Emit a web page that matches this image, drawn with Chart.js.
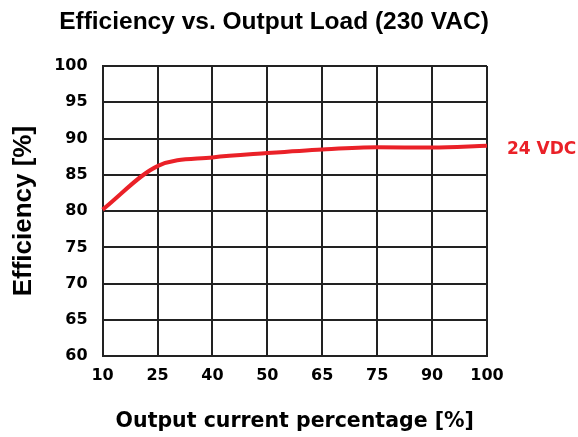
<!DOCTYPE html>
<html>
<head>
<meta charset="utf-8">
<script src="https://cdn.jsdelivr.net/npm/chart.js@4/dist/chart.umd.min.js"></script>
<style>
  html, body { margin: 0; padding: 0; background: #fff; }
  #wrap { width: 578px; height: 437px; }
</style>
</head>
<body>
<div id="wrap"><canvas id="chart" width="578" height="437"></canvas></div>
<script>
// Efficiency curve, 24 VDC output at 230 VAC input
const loadLabels = ['10', '25', '40', '50', '65', '75', '90', '100'];
const efficiency24V = [80.2, 86.2, 87.4, 88.0, 88.5, 88.8, 88.75, 89.0];
const seriesName = '24 VDC';
const chartTitle = 'Efficiency vs. Output Load (230 VAC)';

const arial = '"Liberation Sans", Arial, sans-serif';
const wide = '"DejaVu Sans", Verdana, sans-serif';
const lineRed = '#ea2128';
const gridDark = '#222222';

// title sits centred over the plot+label block, not the canvas, so draw it by hand
// and put the series name right of the last point
const annotate = {
    id: 'annotate',
    afterDatasetsDraw(chart) {
        const meta = chart.getDatasetMeta(0);
        const last = meta.data[meta.data.length - 1];
        const { ctx } = chart;
        ctx.save();
        ctx.fillStyle = lineRed;
        ctx.font = `bold 17px ${wide}`;
        ctx.textBaseline = 'middle';
        ctx.fillText(seriesName, last.x + 20, last.y + 4);

        ctx.fillStyle = '#000';
        ctx.font = `bold 24.5px ${arial}`;
        ctx.textAlign = 'center';
        ctx.fillText(chartTitle, 274, 22);
        ctx.restore();
    }
};

new Chart(document.getElementById('chart'), {
    type: 'line',
    data: {
        labels: loadLabels,
        datasets: [{
            label: seriesName,
            data: efficiency24V,
            borderColor: lineRed,
            borderWidth: 4,
            pointRadius: 0,
            cubicInterpolationMode: 'monotone',
            fill: false
        }]
    },
    options: {
        responsive: false,
        animation: false,
        layout: { padding: { top: 66, right: 91, bottom: 2, left: 4 } },
        plugins: {
            legend: { display: false },
            tooltip: { enabled: false },
            title: { display: false }
        },
        scales: {
            x: {
                offset: false,
                grid: { color: gridDark, lineWidth: 2, drawTicks: false, offset: false },
                border: { color: gridDark, width: 2 },
                ticks: {
                    color: '#000',
                    padding: 10,
                    maxRotation: 0,
                    font: { family: wide, size: 16, weight: 'bold' }
                },
                title: {
                    display: true,
                    text: 'Output current percentage [%]',
                    color: '#000',
                    padding: { top: 14, bottom: 1 },
                    font: { family: wide, size: 20.5, weight: 'bold' }
                }
            },
            y: {
                min: 60,
                max: 100,
                grid: { color: gridDark, lineWidth: 2, drawTicks: false },
                border: { color: gridDark, width: 2 },
                ticks: {
                    stepSize: 5,
                    color: '#000',
                    padding: 15,
                    font: { family: wide, size: 16, weight: 'bold' }
                },
                title: {
                    display: true,
                    text: 'Efficiency [%]',
                    color: '#000',
                    padding: { top: 4, bottom: 0 },
                    font: { family: arial, size: 26, weight: 'bold' }
                }
            }
        }
    },
    plugins: [annotate]
});
</script>
</body>
</html>
